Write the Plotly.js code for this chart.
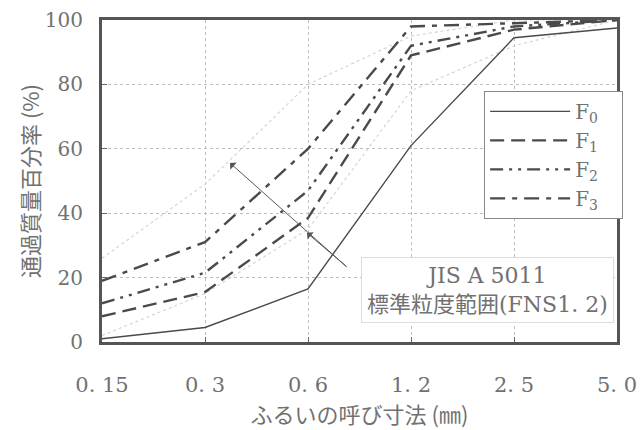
<!DOCTYPE html>
<html><head><meta charset="utf-8">
<script src="https://cdn.plot.ly/plotly-3.0.1.min.js"></script>
<style>html,body{margin:0;padding:0;background:#fff}#c{width:640px;height:430px}</style>
</head><body><div id="c"></div>
<script>
const sieves = ["0.15","0.3","0.6","1.2","2.5","5.0"];
const sieveLabels = ["0. 15","0. 3","0. 6","1. 2","2. 5","5. 0"];
const seriesNames = ["F<sub>0</sub>","F<sub>1</sub>","F<sub>2</sub>","F<sub>3</sub>"];
const F0 = [1, 4.5, 16.5, 61, 94.5, 97.5];
const F1 = [8, 15.5, 38.5, 89, 97, 100];
const F2 = [12, 21.5, 47, 92, 98, 100];
const F3 = [19, 31, 60, 98, 99, 100];
const jisUpper = [26, 49, 80, 95, 100, 100];
const jisLower = [2, 15, 35, 78, 92, 100];
const yTicks = [0, 20, 40, 60, 80, 100];

const serif = "DejaVu Serif, Noto Sans CJK JP, serif";
const jp = "Noto Sans CJK JP, DejaVu Serif, serif";
const txt = "#717171";
const lc = "#4a4a4a";
const pad = "\u00a0\u00a0\u00a0";

const traces = [
  {x: sieves, y: jisUpper, mode: "lines", line: {color: "#d4d4d4", width: 1.2, dash: "dot"}, showlegend: false, hoverinfo: "skip"},
  {x: sieves, y: jisLower, mode: "lines", line: {color: "#d4d4d4", width: 1.2, dash: "dot"}, showlegend: false, hoverinfo: "skip"},
  {x: sieves, y: F0, mode: "lines", name: seriesNames[0] + pad, line: {color: lc, width: 1.4}},
  {x: sieves, y: F1, mode: "lines", name: seriesNames[1] + pad, line: {color: lc, width: 2.4, dash: "14px,7px"}},
  {x: sieves, y: F2, mode: "lines", name: seriesNames[2] + pad, line: {color: lc, width: 2.4, dash: "13px,6px,3px,6px,3px,6px"}},
  {x: sieves, y: F3, mode: "lines", name: seriesNames[3] + pad, line: {color: lc, width: 2.4, dash: "15px,7px,5px,7px"}}
];

const layout = {
  width: 640, height: 430,
  margin: {l: 102, r: 23, t: 20, b: 88},
  paper_bgcolor: "#fff", plot_bgcolor: "#fff",
  showlegend: true,
  legend: {
    x: 0.742, y: 0.78, xanchor: "left", yanchor: "top",
    bgcolor: "#fff", bordercolor: "#888", borderwidth: 1,
    font: {family: serif, size: 20, color: txt},
    itemwidth: 80, tracegroupgap: 0
  },
  xaxis: {
    type: "category", range: [0, 5],
    tickvals: sieves, ticktext: sieveLabels,
    ticks: "inside", ticklen: 5, tickcolor: "#666",
    ticklabelstandoff: 22,
    showgrid: true, gridcolor: "#bdbdbd", griddash: "dot", gridwidth: 1,
    showline: true, mirror: true, linecolor: "#555", linewidth: 3,
    tickfont: {family: serif, size: 21, color: txt},
    title: {text: "ふるいの呼び寸法 (㎜)", font: {family: jp, size: 22, color: txt}, standoff: 4},
    zeroline: false
  },
  yaxis: {
    range: [0, 100], tickvals: yTicks,
    ticks: "inside", ticklen: 5, tickcolor: "#666",
    ticklabelstandoff: 12,
    showgrid: true, gridcolor: "#bdbdbd", griddash: "dot", gridwidth: 1,
    showline: true, mirror: true, linecolor: "#555", linewidth: 3,
    tickfont: {family: serif, size: 20, color: txt},
    title: {text: "通過質量百分率 (%)", font: {family: jp, size: 22, color: txt}, standoff: 0},
    zeroline: false
  },
  annotations: [
    {xref: "paper", yref: "paper", x: 0.749, y: 0.16, xanchor: "center", yanchor: "middle",
     text: "JIS A 5011<br>標準粒度範囲(FNS1. 2)", showarrow: false,
     font: {family: serif, size: 22, color: txt}, bgcolor: "#fff",
     bordercolor: "#dcdcdc", borderwidth: 1, borderpad: 5},
    {xref: "paper", yref: "paper", x: 0.2485, y: 0.556, ax: 118, ay: 105, text: "",
     showarrow: true, arrowhead: 1, arrowsize: 1.6, arrowwidth: 1, arrowcolor: "#555"},
    {xref: "paper", yref: "paper", x: 0.398, y: 0.339, ax: 41, ay: 35, text: "",
     showarrow: true, arrowhead: 1, arrowsize: 1.6, arrowwidth: 1, arrowcolor: "#555"}
  ]
};
Plotly.newPlot("c", traces, layout, {displayModeBar: false, staticPlot: true});
</script></body></html>
